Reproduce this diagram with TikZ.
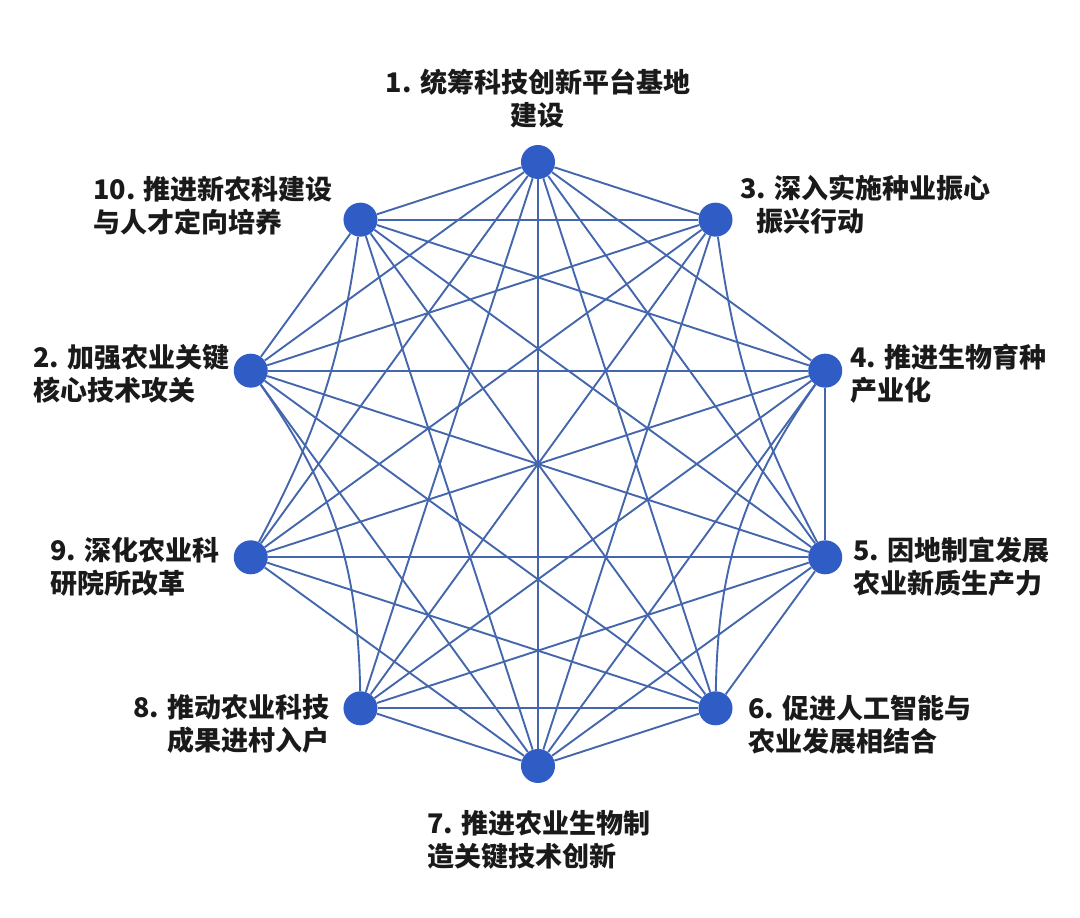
\documentclass[tikz,border=0pt]{standalone}
\usepackage{fontspec}
\setmainfont{Noto Sans CJK SC}
\usetikzlibrary{positioning}
\definecolor{dotblue}{HTML}{2F5CC5}
\definecolor{edgeblue}{HTML}{4366AC}
\definecolor{labeltext}{HTML}{1A1A1A}

\begin{document}
\begin{tikzpicture}[x = 0.025cm, y = 0.025cm,
	dot/.style = {circle, fill = dotblue, inner sep = 0, minimum size = 0.85cm},
	link/.style = {color = edgeblue, line width = 1.35pt},
	lbl/.style = {font = \fontsize{19.2}{23.5}\selectfont\bfseries, text = labeltext,
		inner sep = 0, align = left}]
			\useasboundingbox (-538, -454) rectangle (542, 464);
			% the ten points of the decagon
			\foreach \n/\a in {1/90, 3/54, 4/18, 5/-18, 6/-54, 7/-90, 8/-126, 9/-162, 2/162, 10/126}
			\node[dot] (n\n) at (\a:302) {};
			% straight links
			\foreach \p/\q in {1/2, 1/3, 1/4, 1/5, 1/6, 1/7, 1/8, 1/9, 1/10,
				2/3, 2/4, 2/5, 2/6, 2/7, 2/10,
				3/7, 3/8, 3/9, 3/10,
				4/5, 4/7, 4/8, 4/9, 4/10,
				5/6, 5/7, 5/8, 5/9, 5/10,
				6/7, 6/8, 6/9, 6/10,
				7/8, 7/9, 7/10}
			\draw[link] (n\p) -- (n\q);
			% bent links
			\draw[link] (n10) to[bend left = 10] (n9);
			\draw[link] (n2) to[bend left = 17] (n8);
			\draw[link] (n3) to[bend right = 10] (n5);
			\draw[link] (n4) to[bend right = 17] (n6);
			% labels
			\node[lbl, align = center] (t1) at (0, 365.5) {1. 统筹科技创新平台基地\\建设};
			\node[lbl, anchor = west] (t10) at (-445, 258) {10. 推进新农科建设\\与人才定向培养};
			\node[lbl, anchor = west] (t3) at (202, 259) {3. 深入实施种业振心\\\hspace*{28\pgflinewidth}振兴行动};
			\node[lbl, anchor = west] (t4) at (312, 90.5) {4. 推进生物育种\\产业化};
			\node[lbl, anchor = west] (t2) at (-505, 90.5) {2. 加强农业关键\\核心技术攻关};
			\node[lbl, anchor = west] (t9) at (-488, -103) {9. 深化农业科\\研院所改革};
			\node[lbl, anchor = west] (t5) at (315, -103) {5. 因地制宜发展\\农业新质生产力};
			\node[lbl, anchor = east, align = right] (t8) at (-208, -259.5) {8. 推动农业科技\\成果进村入户};
			\node[lbl, anchor = west] (t6) at (210, -260.5) {6. 促进人工智能与\\农业发展相结合};
			\node[lbl, anchor = west] (t7) at (-111, -375.5) {7. 推进农业生物制\\造关键技术创新};
		\end{tikzpicture}
\end{document}
